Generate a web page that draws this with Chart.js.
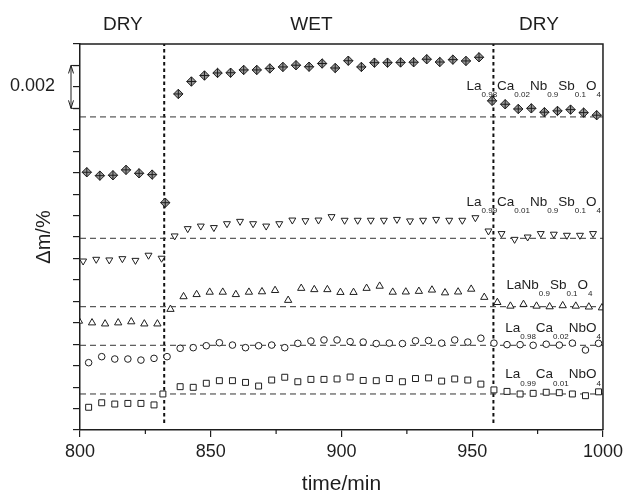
<!DOCTYPE html>
<html>
<head>
<meta charset="utf-8">
<script src="https://cdn.jsdelivr.net/npm/chart.js@4.4.1/dist/chart.umd.min.js"></script>
<style>
  html, body { margin: 0; padding: 0; background: #fff; }
</style>
</head>
<body>
<canvas id="chart" width="627" height="493"></canvas>
<script>
// time/min and stacked Δm offsets (units of 0.001 %)
const timeDiamond = [802.6, 807.6, 812.6, 817.6, 822.6, 827.6, 832.6, 837.6, 842.6, 847.6,
  852.6, 857.6, 862.6, 867.6, 872.6, 877.6, 882.6, 887.6, 892.6, 897.6,
  902.6, 907.6, 912.6, 917.6, 922.6, 927.6, 932.6, 937.6, 942.6, 947.6,
  952.6, 957.6, 962.6, 967.6, 972.6, 977.6, 982.6, 987.6, 992.6, 997.6];
const valDiamond = [12.02, 11.86, 11.88, 12.13, 11.97, 11.91, 10.60,
  15.67, 16.25, 16.53, 16.65, 16.66, 16.79, 16.79, 16.86, 16.93, 17.01, 16.94, 17.09, 16.88,
  17.22, 16.93, 17.13, 17.13, 17.14, 17.15, 17.29, 17.16, 17.27, 17.21, 17.38,
  15.35, 15.19, 14.97, 15.00, 14.82, 14.88, 14.94, 14.80, 14.68];

const timeDown = [801.2, 806.2, 811.2, 816.2, 821.2, 826.2, 831.2, 836.2, 841.2, 846.2,
  851.2, 856.2, 861.2, 866.2, 871.2, 876.2, 881.2, 886.2, 891.2, 896.2,
  901.2, 906.2, 911.2, 916.2, 921.2, 926.2, 931.2, 936.2, 941.2, 946.2,
  951.2, 956.2, 961.2, 966.2, 971.2, 976.2, 981.2, 986.2, 991.2, 996.2];
const valDown = [7.88, 7.96, 7.93, 7.99, 7.91, 8.15, 8.01,
  9.05, 9.39, 9.51, 9.44, 9.62, 9.73, 9.62, 9.51, 9.62, 9.79, 9.76, 9.79, 9.95,
  9.78, 9.78, 9.78, 9.78, 9.82, 9.75, 9.78, 9.82, 9.78, 9.78, 9.90,
  9.28, 9.16, 8.89, 9.00, 9.16, 9.13, 9.08, 9.08, 9.16];

const timeUp = [799.6, 804.6, 809.6, 814.6, 819.6, 824.6, 829.6, 834.6, 839.6, 844.6,
  849.6, 854.6, 859.6, 864.6, 869.6, 874.6, 879.6, 884.6, 889.6, 894.6,
  899.6, 904.6, 909.6, 914.6, 919.6, 924.6, 929.6, 934.6, 939.6, 944.6,
  949.6, 954.6, 959.6, 964.6, 969.6, 974.6, 979.6, 984.6, 989.6, 994.6, 999.6];
const valUp = [5.08, 5.00, 4.95, 5.00, 5.05, 4.95, 4.95, 5.63,
  6.22, 6.32, 6.43, 6.43, 6.32, 6.43, 6.45, 6.51, 6.05, 6.61, 6.55, 6.55,
  6.42, 6.42, 6.61, 6.71, 6.43, 6.44, 6.47, 6.53, 6.40, 6.44, 6.57, 6.19,
  5.95, 5.78, 5.86, 5.78, 5.75, 5.80, 5.78, 5.74, 5.70];

const timeCircle = [803.3, 808.3, 813.3, 818.3, 823.3, 828.3, 833.3, 838.3, 843.3, 848.3,
  853.3, 858.3, 863.3, 868.3, 873.3, 878.3, 883.3, 888.3, 893.3, 898.3,
  903.3, 908.3, 913.3, 918.3, 923.3, 928.3, 933.3, 938.3, 943.3, 948.3,
  953.3, 958.3, 963.3, 968.3, 973.3, 978.3, 983.3, 988.3, 993.3, 998.3];
const valCircle = [3.14, 3.42, 3.31, 3.31, 3.26, 3.34, 3.42,
  3.81, 3.84, 3.93, 4.07, 3.96, 3.84, 3.93, 3.96, 3.84, 4.04, 4.15, 4.20, 4.20,
  4.12, 4.10, 4.03, 4.05, 4.03, 4.16, 4.17, 4.05, 4.20, 4.10, 4.28,
  4.05, 3.98, 3.98, 3.95, 4.00, 3.96, 4.05, 3.73, 4.04];

const timeSquare = [803.3, 808.3, 813.3, 818.3, 823.3, 828.3, 831.7, 838.3, 843.3, 848.3,
  853.3, 858.3, 863.3, 868.3, 873.3, 878.3, 883.3, 888.3, 893.3, 898.3,
  903.3, 908.3, 913.3, 918.3, 923.3, 928.3, 933.3, 938.3, 943.3, 948.3,
  953.3, 958.3, 963.3, 968.3, 973.3, 978.3, 983.3, 988.3, 993.3, 998.3];
const valSquare = [1.06, 1.27, 1.21, 1.24, 1.24, 1.17, 1.68,
  2.02, 1.99, 2.18, 2.30, 2.30, 2.22, 2.05, 2.33, 2.46, 2.25, 2.36, 2.36, 2.38,
  2.47, 2.31, 2.30, 2.40, 2.25, 2.40, 2.43, 2.28, 2.38, 2.33, 2.14,
  1.87, 1.80, 1.68, 1.71, 1.76, 1.74, 1.68, 1.60, 1.78];

const baselines = [14.6, 8.94, 5.75, 3.95, 1.68];
const switchTimes = [832.2, 958.1];
const xTicks = [800, 850, 900, 950, 1000];
const xMinorTicks = [825, 875, 925, 975];
const scaleBar = [15, 17];          // spans 0.002
const regions = ['DRY', 'WET', 'DRY'];

const labels = [
  [['La', 0], ['0.98', 1], ['Ca', 0], ['0.02', 1], ['Nb', 0], ['0.9', 1], ['Sb', 0], ['0.1', 1], ['O', 0], ['4', 1]],
  [['La', 0], ['0.99', 1], ['Ca', 0], ['0.01', 1], ['Nb', 0], ['0.9', 1], ['Sb', 0], ['0.1', 1], ['O', 0], ['4', 1]],
  [['LaNb', 0], ['0.9', 1], ['Sb', 0], ['0.1', 1], ['O', 0], ['4', 1]],
  [['La', 0], ['0.98', 1], ['Ca', 0], ['0.02', 1], ['NbO', 0], ['4', 1]],
  [['La', 0], ['0.99', 1], ['Ca', 0], ['0.01', 1], ['NbO', 0], ['4', 1]]
];

const FONT = '"Liberation Sans", Arial, Helvetica, sans-serif';
const INK = '#1e1e1e';

const pts = (ts, vs) => ts.map((t, i) => ({ x: t, y: vs[i] }));

const marker = (data, style, radius, extra) => Object.assign({
  data: data,
  pointStyle: style,
  pointRadius: radius,
  pointHoverRadius: radius,
  pointBackgroundColor: '#fff',
  pointBorderColor: INK,
  pointBorderWidth: 1,
  showLine: false,
  order: 0
}, extra || {});

const datasets = [];
baselines.forEach(b => datasets.push({
  data: [{ x: 800, y: b }, { x: 1000, y: b }],
  showLine: true, pointRadius: 0, borderColor: '#333', borderWidth: 1,
  borderDash: [6, 4], order: 3
}));
switchTimes.forEach(t => datasets.push({
  data: [{ x: t, y: 0.33 }, { x: t, y: 18 }],
  showLine: true, pointRadius: 0, borderColor: '#111', borderWidth: 2,
  borderDash: [3.5, 3], order: 3
}));
datasets.push(marker(pts(timeDiamond, valDiamond), 'rectRot', 4.7, { pointBackgroundColor: '#9a9a9a', order: 1 }));
datasets.push(marker(pts(timeDiamond, valDiamond), 'cross', 4.7, { order: 0 }));
datasets.push(marker(pts(timeDown, valDown), 'triangle', 4.0, { rotation: 180 }));
datasets.push(marker(pts(timeUp, valUp), 'triangle', 4.2));
datasets.push(marker(pts(timeCircle, valCircle), 'circle', 3.3));
datasets.push(marker(pts(timeSquare, valSquare), 'rect', 4.2));

const decor = {
  id: 'decor',
  afterDraw(chart) {
    const { ctx, chartArea: a, scales: { x, y } } = chart;
    ctx.save();
    ctx.strokeStyle = INK;
    ctx.fillStyle = INK;

    // top and right frame
    ctx.lineWidth = 1.5;
    ctx.beginPath();
    ctx.moveTo(a.left, a.top);
    ctx.lineTo(a.right, a.top);
    ctx.lineTo(a.right, a.bottom);
    ctx.stroke();

    // minor ticks on time axis
    ctx.lineWidth = 1.2;
    xMinorTicks.forEach(t => {
      const px = x.getPixelForValue(t);
      ctx.beginPath();
      ctx.moveTo(px, a.bottom);
      ctx.lineTo(px, a.bottom + 4);
      ctx.stroke();
    });

    // 0.002 scale bar
    const yLo = y.getPixelForValue(scaleBar[0]);
    const yHi = y.getPixelForValue(scaleBar[1]);
    const bx = a.left - 9;
    ctx.lineWidth = 1;
    ctx.beginPath();
    ctx.moveTo(bx, yHi); ctx.lineTo(a.left, yHi);
    ctx.moveTo(bx, yLo); ctx.lineTo(a.left, yLo);
    ctx.moveTo(bx, yHi); ctx.lineTo(bx, yLo);
    ctx.moveTo(bx - 2.5, yHi + 8); ctx.lineTo(bx, yHi); ctx.lineTo(bx + 2.5, yHi + 8);
    ctx.moveTo(bx - 2.5, yLo - 8); ctx.lineTo(bx, yLo); ctx.lineTo(bx + 2.5, yLo - 8);
    ctx.stroke();
    ctx.font = '18px ' + FONT;
    ctx.textAlign = 'right';
    ctx.textBaseline = 'middle';
    ctx.fillText('0.002', a.left - 25, (yLo + yHi) / 2 - 1);

    // DRY / WET / DRY headings
    const centres = [816.4, 888.5, 975.5];
    ctx.font = '19px ' + FONT;
    ctx.textAlign = 'center';
    regions.forEach((r, i) => ctx.fillText(r, x.getPixelForValue(centres[i]), a.top - 19));

    // compound labels with subscripts, right end anchored
    const anchors = [[999.2, 16.11], [999.2, 10.70], [996.0, 6.81], [999.2, 4.82], [999.2, 2.64]];
    ctx.textAlign = 'left';
    ctx.textBaseline = 'alphabetic';
    const fontOf = sub => (sub ? '8px ' : '13.5px ') + FONT;
    labels.forEach((parts, i) => {
      let w = 0;
      parts.forEach(([txt, sub]) => { ctx.font = fontOf(sub); w += ctx.measureText(txt).width; });
      let px = x.getPixelForValue(anchors[i][0]) - w;
      const base = y.getPixelForValue(anchors[i][1]) + 5;
      parts.forEach(([txt, sub]) => {
        ctx.font = fontOf(sub);
        ctx.fillText(txt, px, sub ? base + 7.5 : base);
        px += ctx.measureText(txt).width;
      });
    });
    ctx.restore();
  }
};

new Chart(document.getElementById('chart'), {
  type: 'scatter',
  data: { datasets: datasets },
  plugins: [decor],
  options: {
    responsive: false,
    devicePixelRatio: 1,
    animation: false,
    events: [],
    layout: { padding: { left: 30, top: 44, right: 24, bottom: 0 } },
    plugins: { legend: { display: false }, tooltip: { enabled: false } },
    scales: {
      x: {
        type: 'linear', min: 800, max: 1000,
        afterBuildTicks: s => { s.ticks = xTicks.map(v => ({ value: v })); },
        afterFit: s => { s.height = 63; },
        ticks: { color: INK, font: { family: FONT, size: 18 }, padding: 4, maxRotation: 0, callback: v => String(v) },
        grid: { drawOnChartArea: false, drawTicks: true, tickLength: 7, color: INK, lineWidth: 1.2 },
        border: { display: true, color: INK, width: 1.5 },
        title: { display: true, text: 'time/min', color: INK, font: { family: FONT, size: 21, lineHeight: 0.8 }, padding: 0 }
      },
      y: {
        type: 'linear', min: 0, max: 18,
        ticks: { display: false, stepSize: 1 },
        afterFit: s => { s.width = 50; },
        grid: { drawOnChartArea: false, drawTicks: true, tickLength: 7, color: INK, lineWidth: 1.2 },
        border: { display: true, color: INK, width: 1.5 },
        title: { display: true, text: 'Δm/%', color: INK, font: { family: FONT, size: 20, lineHeight: 1.2 }, padding: { top: 2, bottom: 0 } }
      }
    }
  }
});
</script>
</body>
</html>
